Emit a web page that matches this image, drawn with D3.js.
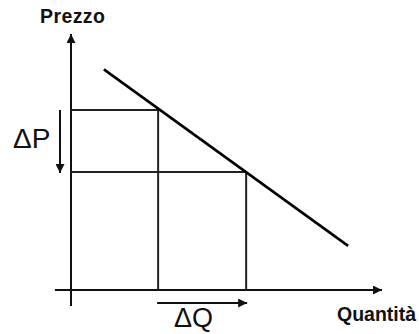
<!DOCTYPE html>
<html>
<head>
<meta charset="utf-8">
<script src="https://cdn.jsdelivr.net/npm/d3@7"></script>
<style>
  html, body { margin: 0; padding: 0; background: #fff; }
  svg { display: block; }
</style>
</head>
<body>
<svg id="chart" width="419" height="334"></svg>
<script>
// ---- data (units are arbitrary 0–100) ----
const demandQ = [10.6, 89.4];      // demand line quantity endpoints
const demandP = [86.5, 17.3];      // demand line price endpoints
const quantities = [28.1, 56.5];   // Q1, Q2
const prices = [70.6, 46.3];       // P1, P2
const axisLabels = ["Prezzo", "Quantità"];
const deltaLabels = ["ΔP", "ΔQ"];

const svg = d3.select("#chart");

const x = d3.scaleLinear().domain([0, 100]).range([71, 381]);
const y = d3.scaleLinear().domain([0, 100]).range([290, 35]);

const ink = "#111";

// arrowhead markers
const defs = svg.append("defs");
defs.append("marker")
  .attr("id", "arrow")
  .attr("viewBox", "0 0 10 10")
  .attr("refX", 10).attr("refY", 5)
  .attr("markerUnits", "userSpaceOnUse")
  .attr("markerWidth", 11).attr("markerHeight", 9)
  .attr("orient", "auto")
  .append("path")
  .attr("d", "M0,0 L10,5 L0,10 Z")
  .attr("fill", ink);

// ---- axes (no ticks) ----
svg.append("line")
  .attr("x1", x(0)).attr("x2", x(0))
  .attr("y1", y(-6.3)).attr("y2", y(100) - 1)
  .attr("stroke", ink).attr("stroke-width", 2)
  .attr("marker-end", "url(#arrow)");
svg.append("line")
  .attr("x1", x(-5.2)).attr("x2", x(100) + 1)
  .attr("y1", y(0)).attr("y2", y(0))
  .attr("stroke", ink).attr("stroke-width", 2)
  .attr("marker-end", "url(#arrow)");

// ---- guide lines for the two points ----
quantities.forEach((q, i) => {
  const p = prices[i];
  svg.append("line")
    .attr("x1", x(0)).attr("x2", x(q))
    .attr("y1", y(p)).attr("y2", y(p))
    .attr("stroke", "#222").attr("stroke-width", 2);
  svg.append("line")
    .attr("x1", x(q)).attr("x2", x(q))
    .attr("y1", y(p)).attr("y2", y(0))
    .attr("stroke", "#222").attr("stroke-width", 2);
});

// ---- demand line ----
const demand = demandQ.map((q, i) => [q, demandP[i]]);
svg.append("path")
  .datum(demand)
  .attr("d", d3.line().x(d => x(d[0])).y(d => y(d[1])))
  .attr("fill", "none")
  .attr("stroke", "#000")
  .attr("stroke-width", 2.6);

// ---- delta arrows ----
svg.append("line")
  .attr("x1", x(0) - 11).attr("x2", x(0) - 11)
  .attr("y1", y(prices[0])).attr("y2", y(prices[1]) + 1)
  .attr("stroke", ink).attr("stroke-width", 2)
  .attr("marker-end", "url(#arrow)");
svg.append("line")
  .attr("x1", x(quantities[0]) - 1).attr("x2", x(quantities[1]) + 1)
  .attr("y1", y(0) + 13).attr("y2", y(0) + 13)
  .attr("stroke", ink).attr("stroke-width", 2)
  .attr("marker-end", "url(#arrow)");

// ---- text ----
const font = "'Liberation Sans', Arial, Helvetica, sans-serif";
svg.append("text")
  .attr("x", 40).attr("y", 23)
  .attr("font-family", font)
  .attr("font-weight", "bold")
  .attr("font-size", 19.5)
  .attr("letter-spacing", 0.4)
  .attr("fill", "#111")
  .text(axisLabels[0]);
svg.append("text")
  .attr("x", 337).attr("y", 321)
  .attr("font-family", font)
  .attr("font-weight", "bold")
  .attr("font-size", 19.5)
  .attr("fill", "#111")
  .text(axisLabels[1]);

svg.append("text")
  .attr("x", 13).attr("y", 148)
  .attr("font-family", font)
  .attr("font-size", 28)
  .attr("fill", "#111")
  .text(deltaLabels[0]);
svg.append("text")
  .attr("x", 174).attr("y", 327)
  .attr("font-family", font)
  .attr("font-size", 27)
  .attr("fill", "#111")
  .text(deltaLabels[1]);
</script>
</body>
</html>
